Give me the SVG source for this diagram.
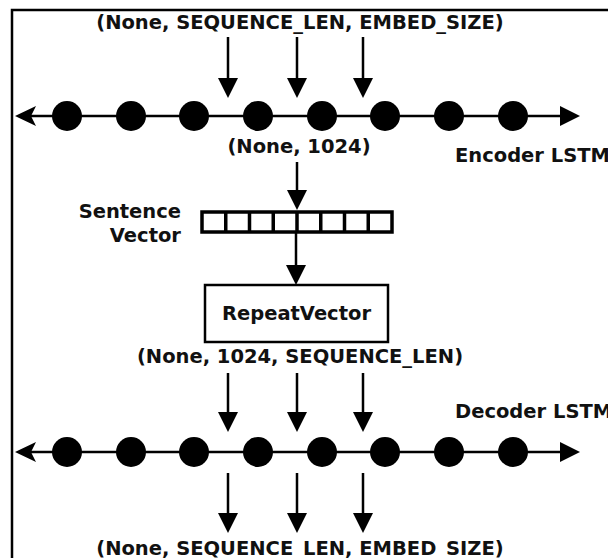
<svg xmlns="http://www.w3.org/2000/svg" width="608" height="558" viewBox="0 0 608 558">
<style>
text{font-family:"DejaVu Sans","Liberation Sans",sans-serif;font-weight:bold;font-size:19.5px;fill:#111}
.ln{stroke:#000;stroke-width:2.5;fill:none}
.dot{fill:#000}
.ah{fill:#000}
</style>
<rect x="0" y="0" width="608" height="558" fill="#fff"/>
<path d="M12,558 V10 H608" stroke="#000" stroke-width="2.5" fill="none"/>
<g id="label-input"><text x="300" y="29" text-anchor="middle">(None, SEQUENCE_LEN, EMBED_SIZE)</text></g>
<g id="encoder">
<line class="ln" x1="28" y1="116" x2="565" y2="116"/>
<polygon class="ah" points="15,116 36,106 31,116 36,126"/>
<polygon class="ah" points="580,116 560,106 560,126"/>
<circle class="dot" cx="67" cy="116" r="15"/><circle class="dot" cx="131" cy="116" r="15"/><circle class="dot" cx="194" cy="116" r="15"/><circle class="dot" cx="258" cy="116" r="15"/><circle class="dot" cx="322" cy="116" r="15"/><circle class="dot" cx="385" cy="116" r="15"/><circle class="dot" cx="449" cy="116" r="15"/><circle class="dot" cx="513" cy="116" r="15"/>
<text x="455" y="162">Encoder LSTM</text>
</g>
<g id="label-encoded"><text x="299" y="153" text-anchor="middle">(None, 1024)</text></g>
<g id="sentence-vector">
<rect x="202" y="212" width="190" height="20" fill="#fff" stroke="#000" stroke-width="3.5"/>
<path d="M225.75,212V232M249.5,212V232M273.25,212V232M297,212V232M320.75,212V232M344.5,212V232M368.25,212V232" stroke="#000" stroke-width="3.5"/>
<text x="181" y="218" text-anchor="end">Sentence</text>
<text x="181" y="242" text-anchor="end">Vector</text>
</g>
<g id="repeat-vector">
<rect x="205" y="285" width="183" height="57" fill="#fff" stroke="#000" stroke-width="2.5"/>
<text x="296.5" y="320" text-anchor="middle">RepeatVector</text>
</g>
<g id="label-repeated"><text x="300" y="363" text-anchor="middle">(None, 1024, SEQUENCE_LEN)</text></g>
<g id="decoder">
<line class="ln" x1="28" y1="452" x2="565" y2="452"/>
<polygon class="ah" points="15,452 36,442 31,452 36,462"/>
<polygon class="ah" points="580,452 560,442 560,462"/>
<circle class="dot" cx="67" cy="452" r="15"/><circle class="dot" cx="131" cy="452" r="15"/><circle class="dot" cx="194" cy="452" r="15"/><circle class="dot" cx="258" cy="452" r="15"/><circle class="dot" cx="322" cy="452" r="15"/><circle class="dot" cx="385" cy="452" r="15"/><circle class="dot" cx="449" cy="452" r="15"/><circle class="dot" cx="513" cy="452" r="15"/>
<text x="455" y="418">Decoder LSTM</text>
</g>
<g id="label-output"><text x="300" y="555" text-anchor="middle">(None, SEQUENCE_LEN, EMBED_SIZE)</text></g>
<g id="connectors">
<path class="ln" d="M228,37V80M297,37V80M363,37V80"/>
<polygon class="ah" points="218,78 238,78 228,98"/>
<polygon class="ah" points="287,78 307,78 297,98"/>
<polygon class="ah" points="353,78 373,78 363,98"/>
<path class="ln" d="M297,162V192"/>
<polygon class="ah" points="287,190 307,190 297,210"/>
<path class="ln" d="M296,232V267"/>
<polygon class="ah" points="286,265 306,265 296,285"/>
<path class="ln" d="M228,373V414M297,373V414M363,373V414"/>
<polygon class="ah" points="218,412 238,412 228,432"/>
<polygon class="ah" points="287,412 307,412 297,432"/>
<polygon class="ah" points="353,412 373,412 363,432"/>
<path class="ln" d="M228,473V515M297,473V515M363,473V515"/>
<polygon class="ah" points="218,513 238,513 228,533"/>
<polygon class="ah" points="287,513 307,513 297,533"/>
<polygon class="ah" points="353,513 373,513 363,533"/>
</g>
</svg>
